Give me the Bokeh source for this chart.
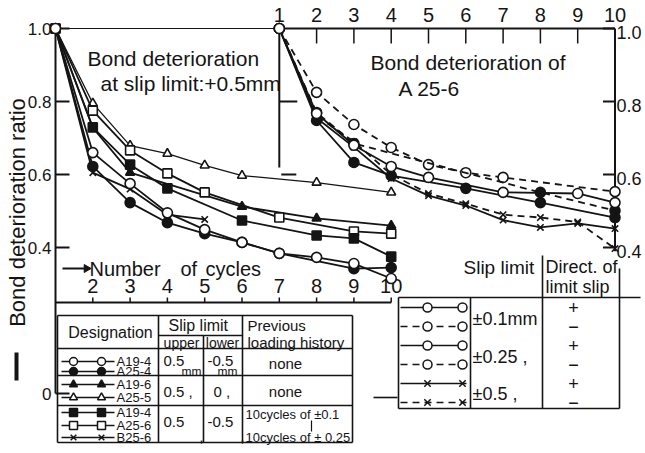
from bokeh.plotting import figure
from bokeh.models import Range1d
from bokeh.embed import file_html
from bokeh.resources import INLINE
from bokeh.core.properties import value
import math

# ---------------- data: left panel (slip limit +0.5 mm) ----------------
a19_4_cyc = [1, 2, 3, 4, 5, 6, 7, 8, 9, 10]
a19_4_val = [1.0, 0.66, 0.575, 0.495, 0.449, 0.414, 0.384, 0.373, 0.356, 0.315]
a25_4_cyc = [1, 2, 3, 4, 5, 6, 7, 9, 10]
a25_4_val = [1.0, 0.622, 0.523, 0.468, 0.438, 0.414, 0.384, 0.342, 0.345]
a19_6_cyc = [1, 2, 3, 6, 8, 10]
a19_6_val = [1.0, 0.728, 0.605, 0.512, 0.48, 0.46]
a25_5_cyc = [1, 2, 3, 4, 5, 6, 8, 10]
a25_5_val = [1.0, 0.795, 0.679, 0.657, 0.625, 0.597, 0.578, 0.551]
a19_4h_cyc = [1, 2, 3, 4, 6, 8, 9, 10]
a19_4h_val = [1.0, 0.729, 0.627, 0.562, 0.474, 0.433, 0.425, 0.375]
a25_6_cyc = [1, 2, 3, 4, 5, 7, 9, 10]
a25_6_val = [1.0, 0.775, 0.666, 0.603, 0.551, 0.482, 0.444, 0.438]
b25_6_cyc = [1, 2, 3, 4, 5]
b25_6_val = [1.0, 0.605, 0.56, 0.49, 0.477]

# ---------------- data: right panel (A 25-6) ----------------
r01p_cyc = [1, 2, 3, 4, 5, 7, 9, 10]
r01p_val = [1.0, 0.767, 0.68, 0.622, 0.592, 0.551, 0.548, 0.523]
r01m_cyc = [1, 2, 3, 4, 5, 6, 7, 10]
r01m_val = [1.0, 0.825, 0.737, 0.674, 0.627, 0.605, 0.592, 0.553]
r025p_cyc = [1, 2, 3, 4, 6, 8, 10]
r025p_val = [1.0, 0.748, 0.633, 0.597, 0.562, 0.523, 0.482]
r025m_cyc = [1, 2, 3, 8, 10]
r025m_val = [1.0, 0.77, 0.685, 0.551, 0.501]
r05p_cyc = [1, 2, 3, 4, 5, 6, 7, 8, 9, 10]
r05p_val = [1.0, 0.755, 0.675, 0.589, 0.542, 0.515, 0.475, 0.455, 0.466, 0.452]
r05m_cyc = [1, 2, 3, 4, 5, 6, 7, 8, 9, 10]
r05m_val = [1.0, 0.76, 0.69, 0.60, 0.548, 0.52, 0.49, 0.482, 0.47, 0.397]

# ticks / labels
left_y_ticks = [0, 0.4, 0.6, 0.8, 1.0]
left_y_labels = ["0", "0.4", "0.6", "0.8", "1.0"]
left_x_ticks = [2, 3, 4, 5, 6, 7, 8, 9, 10]
right_x_ticks = [1, 2, 3, 4, 5, 6, 7, 8, 9, 10]
right_y_ticks = [0.4, 0.6, 0.8, 1.0]
right_y_labels = ["0.4", "0.6", "0.8", "1.0"]
RIGHT_SHIFT = 6  # right panel is drawn 6 cycle-units to the right

FONT = "Liberation Sans"
INK = "#141414"
W, H = 645, 453


def X(px):  # page pixel -> data x
    return 1 + (px - 55) / 37.3


def Y(py):  # page pixel -> data y
    return (393 - py) / 365


p = figure(width=W, height=H, x_range=Range1d(X(0), X(W)),
           y_range=Range1d(Y(H), Y(0)), x_axis_location=None,
           y_axis_location=None, toolbar_location=None, output_backend="svg",
           min_border=0, outline_line_color=None)
p.grid.grid_line_color = None


def txt(px, py, s, size, align="left", angle=0.0):
    p.text(x=[X(px)], y=[Y(py)], text=[s], text_font=value(FONT),
           text_font_size=f"{size}px", text_align=align, text_baseline="middle",
           angle=angle, text_color=INK)


def seg(x0, y0, x1, y1, w=1.8, dash="solid"):
    p.segment(x0=[X(x0)], y0=[Y(y0)], x1=[X(x1)], y1=[Y(y1)], line_color=INK,
              line_width=w, line_dash=dash)


def series(cyc, val, marker, filled, shift=0, dash="solid", lw=1.8, size=9):
    xs = [c + shift for c in cyc]
    p.line(xs, val, line_color=INK, line_width=lw, line_dash=dash)
    p.scatter(xs, val, marker=marker, size=size, line_color=INK, line_width=1.6,
              fill_color=INK if filled else "white")


# ---------------- left panel axes ----------------
p.segment(x0=[1], y0=[0], x1=[1], y1=[1.0], line_color=INK, line_width=2)
tick_len = 14 / 37.3
p.segment(x0=[1] * len(left_y_ticks), y0=left_y_ticks,
          x1=[1 + tick_len] * len(left_y_ticks), y1=left_y_ticks,
          line_color=INK, line_width=2)
p.text(x=[X(51)] * len(left_y_ticks), y=left_y_ticks, text=left_y_labels,
       text_font=value(FONT), text_font_size="17px", text_align="right",
       text_baseline="middle", text_color=INK)
# top border of the left panel
p.segment(x0=[1], y0=[1.0], x1=[1 + RIGHT_SHIFT], y1=[1.0], line_color=INK, line_width=1)
# bottom (cycle) axis of the left panel
axis_y = Y(302)
p.segment(x0=[1], y0=[axis_y], x1=[10], y1=[axis_y], line_color=INK, line_width=2)
p.segment(x0=left_x_ticks, y0=[axis_y] * 9, x1=left_x_ticks, y1=[axis_y + 5 / 365] * 9,
          line_color=INK, line_width=1.5)
p.text(x=left_x_ticks, y=[Y(285)] * 9, text=[str(t) for t in left_x_ticks],
       text_font=value(FONT), text_font_size="20px", text_align="center",
       text_baseline="middle", text_color=INK)
seg(62, 268, 84, 268, w=2)
p.scatter([X(86)], [Y(268)], marker="triangle", size=8, angle=-math.pi / 2,
          fill_color=INK, line_color=INK)
txt(89, 268, "Number", 20)
txt(180, 268, "of", 20)
txt(205, 268, "cycles", 20)

# y-axis title
txt(17, 212, "Bond deterioration ratio", 22, align="center", angle=math.pi / 2)
seg(16, 352, 16, 380, w=4)

txt(87, 58, "Bond deterioration", 21)
txt(100, 83, "at slip limit:+0.5mm", 21)

# ---------------- left panel series ----------------
series(a25_5_cyc, a25_5_val, "triangle", False, lw=1.3, size=9)
series(a19_6_cyc, a19_6_val, "triangle", True, size=9)
series(a25_6_cyc, a25_6_val, "square", False, size=9)
series(a19_4h_cyc, a19_4h_val, "square", True, size=9)
series(b25_6_cyc, b25_6_val, "x", False, size=9)
series(a25_4_cyc, a25_4_val, "circle", True, size=10)
series(a19_4_cyc, a19_4_val, "circle", False, size=10)

# ---------------- right panel axes ----------------
rx0, rx1 = 1 + RIGHT_SHIFT, 10 + RIGHT_SHIFT
p.segment(x0=[rx0], y0=[1.0], x1=[rx1], y1=[1.0], line_color=INK, line_width=2)
inner = [c + RIGHT_SHIFT for c in right_x_ticks[1:-1]]
p.segment(x0=inner, y0=[1.0] * len(inner), x1=inner, y1=[1.0 - 15 / 365] * len(inner),
          line_color=INK, line_width=1.5)
p.text(x=[c + RIGHT_SHIFT for c in right_x_ticks], y=[Y(14)] * len(right_x_ticks),
       text=[str(c) for c in right_x_ticks], text_font=value(FONT),
       text_font_size="20px", text_align="center", text_baseline="middle",
       text_color=INK)
# left edge of right panel
p.segment(x0=[rx0], y0=[1.0], x1=[rx0], y1=[Y(167)], line_color=INK, line_width=2)
p.segment(x0=[rx0, rx0 + 2 / 37.3], y0=[0.8, 0.6], x1=[rx0 + 18 / 37.3, rx0 + 17 / 37.3],
          y1=[0.8, 0.6], line_color=INK, line_width=2)
# right axis
p.segment(x0=[rx1], y0=[1.0], x1=[rx1], y1=[0.39], line_color=INK, line_width=2)
p.segment(x0=[rx1] * 4, y0=right_y_ticks, x1=[rx1 - 12 / 37.3] * 4, y1=right_y_ticks,
          line_color=INK, line_width=2)
p.text(x=[X(616)] * 4, y=right_y_ticks, text=right_y_labels, text_font=value(FONT),
       text_font_size="18px", text_align="left", text_baseline="middle",
       y_offset=4, text_color=INK)
txt(370, 62, "Bond deterioration of", 21)
txt(398, 88, "A 25-6", 21)

# ---------------- right panel series ----------------
series(r01m_cyc, r01m_val, "circle", False, RIGHT_SHIFT, dash="7 5", size=10)
series(r025m_cyc, r025m_val, "circle", True, RIGHT_SHIFT, dash="7 5", size=10)
series(r05m_cyc, r05m_val, "x", False, RIGHT_SHIFT, dash="7 5", size=9)
series(r05p_cyc, r05p_val, "x", False, RIGHT_SHIFT, size=9)
series(r025p_cyc, r025p_val, "circle", True, RIGHT_SHIFT, size=10)
series(r01p_cyc, r01p_val, "circle", False, RIGHT_SHIFT, size=10)

# ---------------- left table ----------------
tl, tr = 57, 352
for yy in (315, 348, 375, 405, 442):
    seg(tl, yy, tr, yy, w=1.6)
seg(158, 335, 242, 335, w=1.4)
for xx, y0 in ((tl, 315), (158, 315), (203, 335), (242, 315), (tr, 315)):
    seg(xx, y0, xx, 442, w=1.6)
txt(110, 332, "Designation", 16, align="center")
txt(200, 325, "Slip  limit", 16, align="center")
txt(181, 342, "upper", 14, align="center")
txt(222, 342, "lower", 14, align="center")
txt(247, 325, "Previous", 15)
txt(247, 342, "loading history", 15)

left_legend = [("A19-4", "circle", False, 361), ("A25-4", "circle", True, 371),
               ("A19-6", "triangle", True, 384), ("A25-5", "triangle", False, 397),
               ("A19-4", "square", True, 412), ("A25-6", "square", False, 425),
               ("B25-6", "x", False, 437)]
for name, mk, fill, yy in left_legend:
    seg(61, yy, 114, yy, w=1.5)
    p.scatter([X(73), X(101)], [Y(yy)] * 2, marker=mk, size=8, line_color=INK,
              line_width=1.5, fill_color=INK if fill else "white")
    txt(116, yy, name, 13)

txt(163, 360, "0.5", 15)
txt(181, 371, "mm", 12)
txt(207, 360, "-0.5", 15)
txt(217, 371, "mm", 12)
txt(285, 363, "none", 15, align="center")
txt(163, 391, "0.5 ,", 15)
txt(213, 391, "0 ,", 15)
txt(285, 391, "none", 15, align="center")
txt(163, 421, "0.5", 15)
txt(207, 421, "-0.5", 15)
txt(199, 436, ",", 14)
txt(240, 436, ",", 14)
txt(245, 414, "10cycles of ±0.1", 13)
seg(311, 420, 311, 431, w=1.2)
txt(245, 437, "10cycles of ± 0.25", 13)

# ---------------- right table ----------------
txt(463, 267, "Slip limit", 19)
txt(545, 266, "Direct. of", 18)
txt(545, 286, "limit slip", 18)
seg(542, 255, 542, 408, w=1.6)
seg(619, 268, 619, 408, w=1.6)
seg(398, 297, 640, 297, w=1.6)
seg(398, 297, 398, 408, w=1.6)
seg(470, 297, 470, 408, w=1.6)
seg(398, 408, 619, 408, w=1.6)
seg(373, 397, 397, 397, w=1.6)

right_legend = [("circle", "solid", 307, "+"), ("circle", "7 5", 326, "\u2212"),
                ("circle", "solid", 345, "+"), ("circle", "7 5", 364, "\u2212"),
                ("x", "solid", 383, "+"), ("x", "7 5", 402, "\u2212")]
for mk, dash, yy, sign in right_legend:
    seg(400, yy, 466, yy, w=1.5, dash=dash)
    p.scatter([X(427), X(462)], [Y(yy)] * 2, marker=mk, size=9, line_color=INK,
              line_width=1.5, fill_color="white")
    txt(573, yy, sign, 18, align="center")
txt(472, 318, "±0.1mm", 18)
txt(472, 356, "±0.25 ,", 18)
txt(472, 393, "±0.5 ,", 18)

open("out.html", "w").write(file_html(p, INLINE))
